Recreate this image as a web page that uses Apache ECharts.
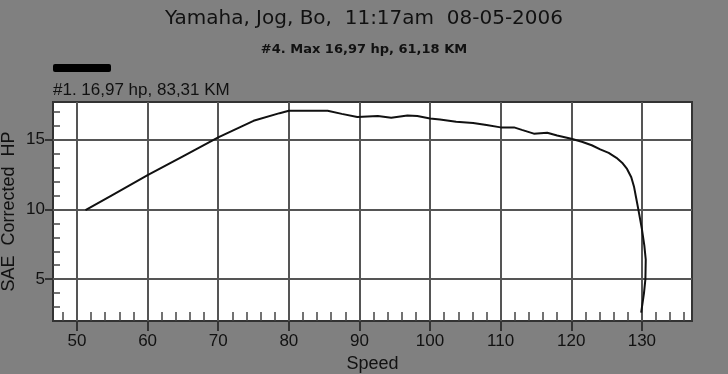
<!DOCTYPE html>
<html>
<head>
<meta charset="utf-8">
<script src="https://cdn.jsdelivr.net/npm/echarts@6/dist/echarts.min.js"></script>
<style>html,body{margin:0;padding:0;background:#808080;}#c{width:728px;height:374px;}</style>
</head>
<body>
<div id="c"></div>
<script>
var titleText = 'Yamaha, Jog, Bo,  11:17am  08-05-2006';
var subText = '#4. Max 16,97 hp, 61,18 KM';
var runName = '#1. 16,97 hp, 83,31 KM';
var xName = 'Speed';
var yName = 'SAE  Corrected  HP';

var speed = [51.2, 55, 60, 65, 70, 72.5, 75, 78.7, 80, 83, 85.5, 87.5, 89.7, 92.6, 94.5, 96.8, 98.2, 100, 101.4, 103.7, 106.1, 108, 110, 111.9, 113, 114.7, 116.6, 118, 120, 121.5, 122.9, 124.1, 125.3, 126.4, 127.2, 127.9, 128.5, 128.9, 129.2, 129.5, 130.0, 130.35, 130.55, 130.5, 130.3, 129.9];
var hp = [9.95, 11.03, 12.45, 13.81, 15.17, 15.76, 16.35, 16.9, 17.07, 17.07, 17.07, 16.85, 16.63, 16.69, 16.57, 16.74, 16.69, 16.52, 16.44, 16.28, 16.2, 16.05, 15.88, 15.88, 15.7, 15.43, 15.5, 15.3, 15.07, 14.85, 14.6, 14.3, 14.05, 13.7, 13.35, 12.9, 12.3, 11.6, 10.8, 10.0, 8.6, 7.4, 6.4, 5.0, 4.0, 2.6];

var xMajor = [50, 60, 70, 80, 90, 100, 110, 120, 130];
var xMinor = [48, 52, 54, 56, 58, 62, 64, 66, 68, 72, 74, 76, 78, 82, 84, 86, 88, 92, 94, 96, 98, 102, 104, 106, 108, 112, 114, 116, 118, 122, 124, 126, 128, 132, 134, 136];
var yMajor = [5, 10, 15];
var yMinor = [3, 4, 6, 7, 8, 9, 11, 12, 13, 14, 16, 17];

var xMin = 46.6, xMax = 137.1, yMin = 2, yMax = 17.7;

var points = speed.map(function (s, i) { return [s, hp[i]]; });

var chart = echarts.init(document.getElementById('c'));
var labelStyle = { color: '#111', fontFamily: 'Liberation Sans, Arial, sans-serif', fontSize: 17 };
chart.setOption({
  backgroundColor: '#808080',
  animation: false,
  title: [
    { text: titleText, left: 'center', top: 4, textStyle: { color: '#111', fontFamily: 'DejaVu Sans', fontSize: 20, fontWeight: 'normal' } },
    { text: subText, left: 'center', top: 38, textStyle: { color: '#111', fontFamily: 'DejaVu Sans', fontSize: 13, fontWeight: 'bold' } },
    { text: runName, left: 48, top: 77, textStyle: { color: '#111', fontFamily: 'Liberation Sans, Arial, sans-serif', fontSize: 17, fontWeight: 'normal' } }
  ],
  legend: {
    left: 48, top: 59,
    icon: 'roundRect', itemWidth: 58, itemHeight: 8,
    formatter: function () { return ''; },
    data: [runName]
  },
  grid: { left: 53, right: 36, top: 102, bottom: 53, show: true, backgroundColor: '#fff', borderColor: '#333', borderWidth: 2, containLabel: false, outerBoundsMode: 'none' },
  xAxis: [
    {
      type: 'value', min: xMin, max: xMax, splitNumber: 9, minInterval: 10, maxInterval: 10,
      position: 'bottom',
      name: xName, nameLocation: 'middle', nameGap: 32,
      nameTextStyle: { color: '#111', fontFamily: 'Liberation Sans, Arial, sans-serif', fontSize: 18 },
      axisLine: { show: false },
      axisTick: { show: true, customValues: xMajor, length: 10, lineStyle: { color: '#333', width: 2 } },
      axisLabel: Object.assign({ customValues: xMajor, margin: 12 }, labelStyle),
      splitLine: { show: true, lineStyle: { color: '#555', width: 2 } }
    },
    {
      type: 'value', min: xMin, max: xMax, position: 'bottom',
      axisLine: { show: false },
      axisTick: { show: true, inside: true, customValues: xMinor, length: 9, lineStyle: { color: '#444', width: 1.5 } },
      axisLabel: { show: false },
      splitLine: { show: false }
    }
  ],
  yAxis: [
    {
      type: 'value', min: yMin, max: yMax, splitNumber: 3, minInterval: 5, maxInterval: 5,
      position: 'left',
      name: yName, nameLocation: 'middle', nameGap: 35, nameMoveOverlap: false,
      nameTextStyle: { color: '#111', fontFamily: 'Liberation Sans, Arial, sans-serif', fontSize: 18 },
      axisLine: { show: false },
      axisTick: { show: true, customValues: yMajor, length: 8, lineStyle: { color: '#333', width: 2 } },
      axisLabel: Object.assign({ customValues: yMajor, margin: 8 }, labelStyle),
      splitLine: { show: true, lineStyle: { color: '#555', width: 2 } }
    },
    {
      type: 'value', min: yMin, max: yMax, position: 'left',
      axisLine: { show: false },
      axisTick: { show: true, inside: true, customValues: yMinor, length: 7, lineStyle: { color: '#444', width: 1.5 } },
      axisLabel: { show: false },
      splitLine: { show: false }
    }
  ],
  series: [{
    name: runName, type: 'line', xAxisIndex: 0, yAxisIndex: 0,
    data: points, showSymbol: false, symbol: 'none', smooth: false,
    itemStyle: { color: '#000' },
    lineStyle: { color: '#111', width: 2 }
  }]
});
</script>
</body>
</html>
